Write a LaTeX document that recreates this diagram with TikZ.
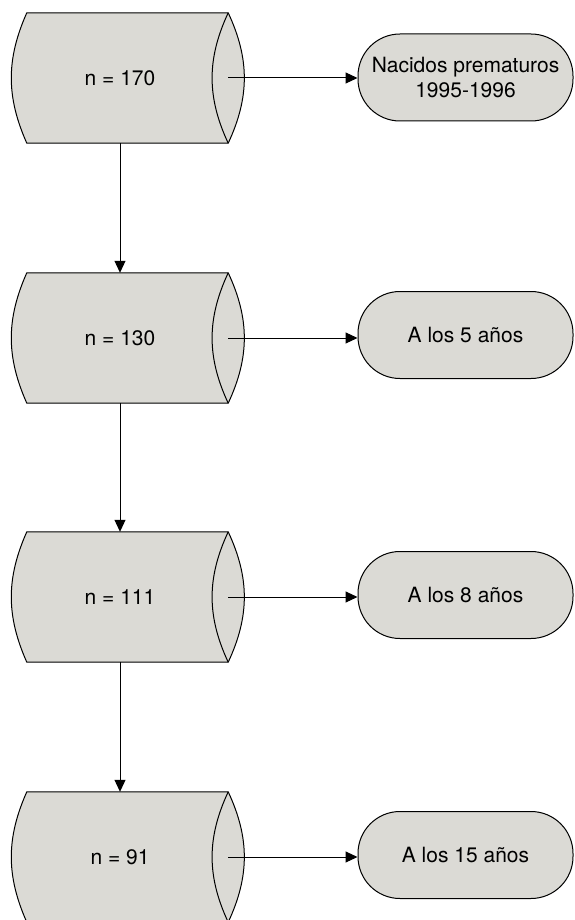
\documentclass[tikz,border=0pt]{standalone}
\usepackage{fontspec}
\setmainfont{TeX Gyre Heros}
\usetikzlibrary{arrows.meta,backgrounds}
\definecolor{boxgray}{RGB}{219,218,213}
\begin{document}
\begin{tikzpicture}[x=1pt,y=-1pt,
  cylbox/.style={minimum width=216pt,minimum height=130pt,inner sep=0pt,font=\fontsize{21}{25}\selectfont},
  pillbox/.style={draw=black,fill=boxgray,line width=1pt,rounded corners=42pt,minimum width=215pt,minimum height=87pt,inner sep=0pt,align=center,font=\fontsize{21}{25}\selectfont},
  link/.style={draw=black,line width=1pt,-{Triangle[length=12pt,width=11pt]}},
  cylline/.style={draw=black,line width=1pt}]
\useasboundingbox (0,0) rectangle (574,920);

\node[cylbox] (c1) at (120,78) {n = 170};
\node[cylbox] (c2) at (120,338) {n = 130};
\node[cylbox] (c3) at (120,597) {n = 111};
\node[cylbox] (c4) at (120,857) {n = 91};

\node[pillbox] (b1) at (465.5,77.5) {Nacidos prematuros\\1995-1996};
\node[pillbox] (b2) at (465.5,335) {A los 5 años};
\node[pillbox] (b3) at (465.5,595) {A los 8 años};
\node[pillbox] (b4) at (465.5,855) {A los 15 años};

\begin{scope}[on background layer]
\foreach \c in {c1,c2,c3,c4}{
  \path[cylline,fill=boxgray] ([xshift=15pt]\c.north west) -- (\c.north east)
    to[bend left=25] (\c.south east) -- ([xshift=15pt]\c.south west)
    to[bend left=24] ([xshift=15pt]\c.north west) -- cycle;
  \draw[cylline] (\c.north east) to[bend right=25] (\c.south east);
}
\end{scope}

\foreach \i in {1,2,3,4}{
  \draw[link] (c\i.east) -- (c\i.east -| b\i.west);
}
\draw[link] (c1.south) -- (c2.north);
\draw[link] (c2.south) -- (c3.north);
\draw[link] (c3.south) -- (c4.north);
\end{tikzpicture}
\end{document}
